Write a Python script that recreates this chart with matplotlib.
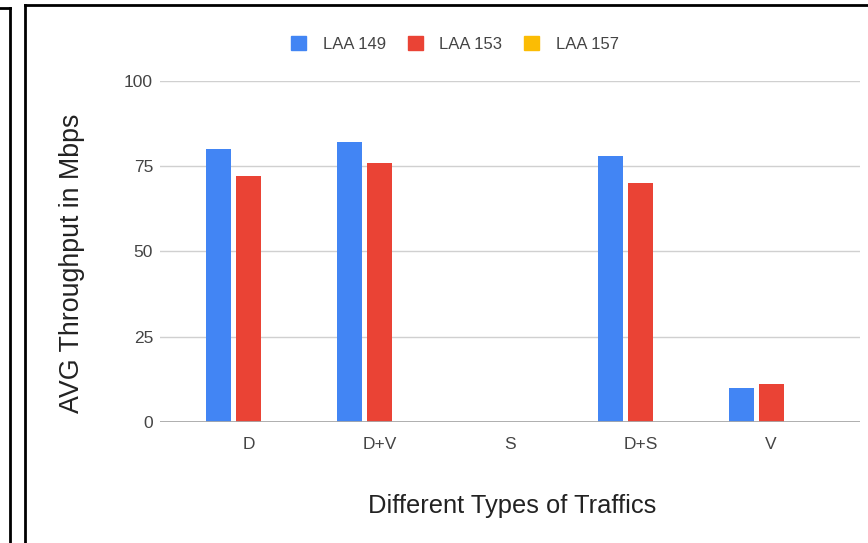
import numpy as np
import matplotlib.pyplot as plt
from matplotlib.lines import Line2D

plt.rcParams['font.family'] = ['Liberation Sans', 'DejaVu Sans']

traffic_types = ['D', 'D+V', 'S', 'D+S', 'V']
laa_149 = [80, 82, 0, 78, 10]
laa_153 = [72, 76, 0, 70, 11]
laa_157 = [0, 0, 0, 0, 0]

series = [('LAA 149', laa_149, '#4285F4'),
          ('LAA 153', laa_153, '#EA4335'),
          ('LAA 157', laa_157, '#FBBC04')]

W, H = 868, 543
fig = plt.figure(figsize=(W / 100, H / 100), dpi=100)
ax = fig.add_axes([160 / W, (H - 421.7) / H, 700 / W, (421.7 - 81) / H])

x = np.arange(len(traffic_types))
width = 0.19
step = 0.23
for i, (name, vals, color) in enumerate(series):
    ax.bar(x + (i - 1) * step, vals, width, color=color, linewidth=0,
           label=name, zorder=3)

ax.set_ylim(0, 100)
ax.set_xlim(-0.68, 4.68)
ax.set_yticks([0, 25, 50, 75, 100])
ax.set_xticks(x)
ax.set_xticklabels(traffic_types)
ax.tick_params(length=0, labelsize=12.5, colors='#444444')
ax.tick_params(axis='y', pad=5)
ax.tick_params(axis='x', pad=11)
ax.yaxis.grid(True, color='#d0d0d0', linewidth=1, zorder=0)
for s in ax.spines.values():
    s.set_visible(False)
ax.axhline(0, color='#a8a8a8', linewidth=2, zorder=4)

fig.text(72 / W, 1 - 263 / H, 'AVG Throughput in Mbps', rotation=90,
         ha='center', va='center', fontsize=19.3, color='#222222')
fig.text(512 / W, 1 - 506 / H, 'Different Types of Traffics',
         ha='center', va='center', fontsize=18.4, color='#222222')

handles = [plt.Rectangle((0, 0), 1, 1, color=c) for _, _, c in series]
fig.legend(handles, [n for n, _, _ in series], loc='center',
           bbox_to_anchor=(455 / W, 1 - 44 / H), ncol=3, frameon=False,
           fontsize=12, handlelength=0.9, handleheight=0.9,
           handletextpad=1.0, columnspacing=1.3, labelcolor='#444444')

# frame lines around the panels
lw = 2
fig.add_artist(Line2D([0, 9.5 / W], [1 - 8 / H, 1 - 8 / H], color='black', lw=lw))
fig.add_artist(Line2D([9.5 / W, 9.5 / W], [0, 1 - 8 / H], color='black', lw=lw))
fig.add_artist(Line2D([25 / W, 1], [1 - 5 / H, 1 - 5 / H], color='black', lw=lw))
fig.add_artist(Line2D([25 / W, 25 / W], [0, 1 - 5 / H], color='black', lw=lw))

fig.savefig('out.png', dpi=100)
